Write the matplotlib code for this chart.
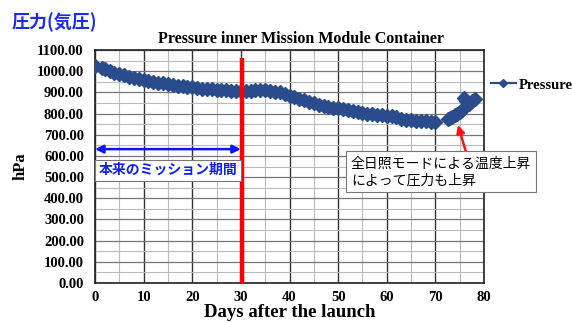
import numpy as np
import matplotlib
matplotlib.use('Agg')
import matplotlib.pyplot as plt
from matplotlib.ticker import MultipleLocator, FormatStrFormatter
from matplotlib.lines import Line2D

serif = ['Liberation Serif', 'DejaVu Serif']
jp = ['Noto Sans CJK JP', 'DejaVu Sans']

# pressure readings (hPa) by day after launch, three logged stretches
days_a = [0, 1.5, 2, 3, 4, 5, 6, 7, 8, 9, 10, 11, 12, 13, 14, 15, 16, 17, 18, 19,
          20, 21, 22, 23, 24, 25, 26, 27, 28, 29, 30, 31, 32, 33, 34, 35, 36, 37,
          38, 39, 40, 41, 42, 43, 44, 45, 46, 47, 48, 49, 50, 51, 52, 53, 54, 55,
          56, 57, 58, 59, 60, 61, 62, 63, 64, 65, 66, 67, 68, 69, 70]
pres_a = [1025, 1015, 1008, 1000, 992, 985, 980, 972, 968, 962, 958, 952, 950,
          946, 942, 938, 935, 932, 928, 926, 924, 920, 918, 916, 915, 913, 911,
          910, 908, 906, 905, 907, 908, 910, 911, 910, 908, 904, 900, 893, 885,
          878, 870, 862, 855, 848, 842, 836, 832, 828, 824, 820, 815, 810, 806,
          803, 800, 797, 794, 791, 789, 787, 785, 772, 770, 768, 767, 765, 764,
          762, 760]
days_b = [72.5, 73, 73.5, 74, 74.5, 75, 75.5]
pres_b = [772, 778, 785, 792, 800, 808, 815]
days_c = [75.8, 76.4, 77, 77.6, 78.2]
pres_c = [873, 860, 847, 858, 870]

mission_end = 30.3
arrow_level = 632

blue = '#2b4c8c'

fig = plt.figure(figsize=(5.72, 3.23), dpi=100)
ax = fig.add_axes([95 / 572, 1 - 283 / 323, 389 / 572, 233 / 323])

ax.set_xlim(0, 80)
ax.set_ylim(0, 1100)
ax.xaxis.set_major_locator(MultipleLocator(10))
ax.xaxis.set_minor_locator(MultipleLocator(5))
ax.yaxis.set_major_locator(MultipleLocator(100))
ax.yaxis.set_minor_locator(MultipleLocator(50))
ax.yaxis.set_major_formatter(FormatStrFormatter('%.2f'))
ax.grid(True, which='major', axis='x', color='#333333', lw=1.0)
ax.grid(True, which='minor', axis='x', color='#bbbbbb', lw=0.8)
ax.grid(True, which='major', axis='y', color='#777777', lw=0.9)
ax.grid(True, which='minor', axis='y', color='#bbbbbb', lw=0.8)
ax.tick_params(which='both', length=0)
ax.tick_params(axis='x', pad=6)
ax.tick_params(axis='y', pad=8)
for lab in ax.get_xticklabels() + ax.get_yticklabels():
    lab.set_fontfamily(serif)
    lab.set_fontweight('bold')
    lab.set_fontsize(10.5)
for s in ax.spines.values():
    s.set_color('#222222')
    s.set_linewidth(1.2)

line_kw = dict(color=blue, marker='D', markersize=7, lw=2.5, zorder=3)
ax.plot(days_a, pres_a, **line_kw)
ax.plot(days_b, pres_b, **line_kw)
ax.plot(days_c, pres_c, **line_kw)

# end of the planned mission
ax.plot([mission_end, mission_end], [0, 1060], color='#ff0000', lw=3.2, zorder=4,
        solid_capstyle='butt')
ax.annotate('', xy=(0, arrow_level), xytext=(mission_end - 0.3, arrow_level),
            arrowprops=dict(arrowstyle='<|-|>', color='#0a14ff', lw=1.8,
                            mutation_scale=12, shrinkA=0, shrinkB=0), zorder=5)
ax.text(15, 533, '本来のミッション期間', family=jp, fontsize=10, fontweight='bold',
        color='#1020ee', ha='center', va='center', zorder=6,
        bbox=dict(boxstyle='square,pad=0.25', fc='white', ec='#777777', lw=0.8))

ax.annotate('', xy=(74.65, 746), xytext=(76.3, 618),
            arrowprops=dict(arrowstyle='-|>', color='#ff1010', lw=1.8,
                            mutation_scale=12, shrinkA=0, shrinkB=0), zorder=5)
ax.text(52.6, 598, '全日照モードによる温度上昇\nによって圧力も上昇', family=jp,
        fontsize=10, color='black', ha='left', va='top', linespacing=1.3, zorder=6,
        bbox=dict(boxstyle='square,pad=0.35', fc='white', ec='#777777', lw=0.8))

ax.set_title('Pressure inner Mission Module Container', family=serif,
             fontweight='bold', fontsize=11.5, pad=5, x=0.53)
ax.set_xlabel('Days after the launch', family=serif, fontweight='bold',
              fontsize=13.5, labelpad=0)
ax.set_ylabel('hPa', family=serif, fontweight='bold', fontsize=12, labelpad=6)

handle = Line2D([], [], color=blue, marker='D', markersize=4.5, lw=1.6)
fig.legend([handle], ['Pressure'], loc='center left',
           bbox_to_anchor=(485 / 572, 1 - 85 / 323), frameon=False,
           prop=dict(family=serif, weight='bold', size=10.5),
           handlelength=1.7, handletextpad=0.2, borderaxespad=0)

fig.text(12 / 572, 1 - 22 / 323, '圧力(気圧)', family=jp, fontsize=13,
         fontweight='bold', color='#1a2cf0', ha='left', va='center')

fig.savefig('out.png', dpi=100)
